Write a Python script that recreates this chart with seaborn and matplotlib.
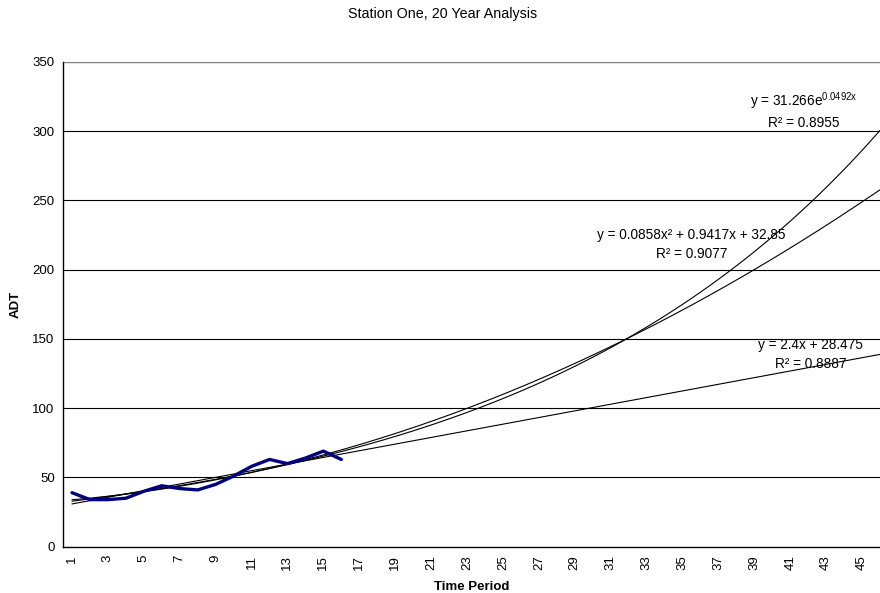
import numpy as np
import pandas as pd
import matplotlib
matplotlib.use("Agg")
import matplotlib.pyplot as plt
import seaborn as sns

# ---- data ----
periods = list(range(1, 17))
adt = [39, 34, 34, 35, 40, 44, 42, 41, 45, 51, 58, 63, 60, 64, 69, 63]

# trendline coefficients as printed on the chart
exp_a, exp_b = 31.266, 0.0492
quad_a, quad_b, quad_c = 0.0858, 0.9417, 32.85
lin_m, lin_c = 2.4, 28.475
trend_end = 46

exp_label = "y = 31.266e$^{0.0492x}$"
exp_r2 = "R² = 0.8955"
quad_label = "y = 0.0858x² + 0.9417x + 32.85"
quad_r2 = "R² = 0.9077"
lin_label = "y = 2.4x + 28.475"
lin_r2 = "R² = 0.8887"

title = "Station One, 20 Year Analysis"
xlabel = "Time Period"
ylabel = "ADT"
yticks = [0, 50, 100, 150, 200, 250, 300, 350]
xtick_labels = list(range(1, 46, 2))

sns.set_style("white")
plt.rcParams["font.family"] = ["Liberation Sans", "DejaVu Sans"]
plt.rcParams["mathtext.fontset"] = "custom"
plt.rcParams["mathtext.rm"] = "Liberation Sans"
plt.rcParams["mathtext.it"] = "Liberation Sans"
plt.rcParams["text.color"] = "black"
plt.rcParams["axes.labelcolor"] = "black"
plt.rcParams["xtick.color"] = "black"
plt.rcParams["ytick.color"] = "black"

fig = plt.figure(figsize=(8.8, 5.93), dpi=100)
ax = fig.add_axes([63 / 880, (593 - 546.7) / 593, 1 - 63 / 880, (546.7 - 62) / 593])

xs = np.linspace(1, trend_end, 400)
df_trend = pd.DataFrame({
    "x": np.concatenate([xs, xs, xs]),
    "y": np.concatenate([
        exp_a * np.exp(exp_b * xs),
        quad_a * xs**2 + quad_b * xs + quad_c,
        lin_m * xs + lin_c,
    ]),
    "kind": ["exp"] * len(xs) + ["quad"] * len(xs) + ["lin"] * len(xs),
})

# gridlines
for yv in yticks[1:-1]:
    ax.axhline(yv, color="black", lw=0.8, zorder=0)
ax.axhline(yticks[-1], color="#808080", lw=1.0, zorder=0)

sns.lineplot(data=df_trend, x="x", y="y", units="kind", estimator=None,
             color="black", lw=0.8, ax=ax, zorder=2)
sns.lineplot(x=periods, y=adt, color="#000080", lw=2.4, ax=ax, zorder=3)

ax.set_xlim(0.5, 46.0)
ax.set_ylim(0, 350)
ax.set_yticks(yticks)
ax.set_yticklabels([str(v) for v in yticks], fontsize=9.5)
ax.set_xticks(xtick_labels)
ax.set_xticklabels([str(v) for v in xtick_labels], rotation=90, fontsize=9.5)
ax.set_xticks(np.arange(0.5, 46, 1), minor=True)
ax.tick_params(axis="x", which="major", length=0, pad=6)
ax.tick_params(axis="x", which="minor", length=4, width=0.8, color="black", direction="out")
ax.tick_params(axis="y", which="major", length=4, width=0.8, color="black", direction="out", pad=2)

for side in ["top", "right"]:
    ax.spines[side].set_visible(False)
for side in ["left", "bottom"]:
    ax.spines[side].set_color("black")
    ax.spines[side].set_linewidth(1.0)

ax.set_xlabel(xlabel, fontsize=9.5, fontweight="bold", labelpad=8)
ax.set_ylabel(ylabel, fontsize=9.5, fontweight="bold", labelpad=8)
fig.text(0.5 * (348 + 538) / 880, 1 - 14 / 593, title, ha="center", va="center", fontsize=10.3)

tk = dict(ha="center", va="center", fontsize=9.8, color="black")
ax.text(41.76, 321.5, exp_label, **tk)
ax.text(41.76, 306.0, exp_r2, **tk)
ax.text(35.5, 225.2, quad_label, **tk)
ax.text(35.5, 211.6, quad_r2, **tk)
ax.text(42.15, 145.8, lin_label, **tk)
ax.text(42.15, 131.8, lin_r2, **tk)

fig.savefig("out.png", dpi=100)
